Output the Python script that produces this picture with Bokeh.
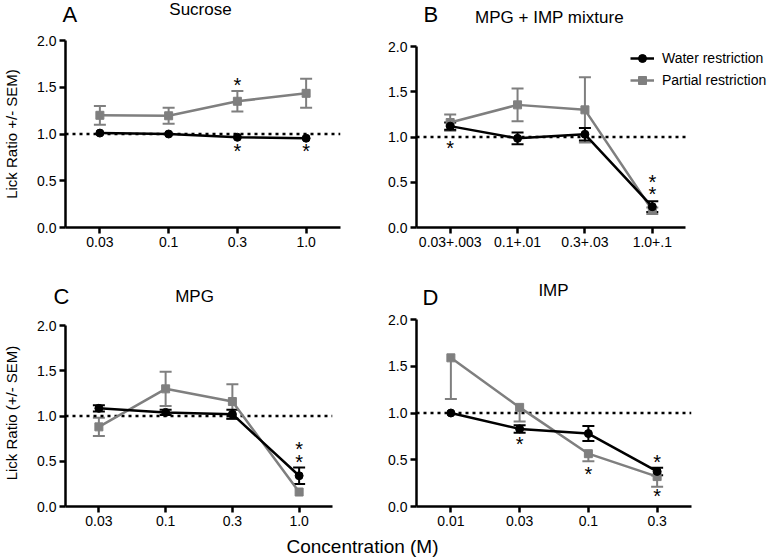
from bokeh.plotting import figure
from bokeh.models import (Range1d, FixedTicker, Whisker, TeeHead, ColumnDataSource,
                          Label, Legend, LegendItem, NumeralTickFormatter)
from bokeh.layouts import column, row
from bokeh.embed import file_html
from bokeh.resources import INLINE
from bokeh.core.properties import value

FONT = "Liberation Sans"
BLACK = "#000000"
GRAY = "#7f7f7f"

# ---------------- data ----------------
# Panel A: Sucrose
a_cats = ["0.03", "0.1", "0.3", "1.0"]
a_water = [1.01, 1.00, 0.965, 0.955]
a_water_err = [0, 0, 0, 0]
a_partial = [1.20, 1.195, 1.35, 1.435]
a_partial_hi = [0.10, 0.085, 0.11, 0.155]
a_partial_lo = [0.10, 0.085, 0.11, 0.155]
a_star_x = [2, 2, 3]
a_star_y = [1.56, 0.845, 0.845]

# Panel B: MPG + IMP mixture
b_cats = ["0.03+.003", "0.1+.01", "0.3+.03", "1.0+.1"]
b_water = [1.12, 0.985, 1.03, 0.23]
b_water_err = [0.04, 0.065, 0.07, 0.06]
b_partial = [1.16, 1.355, 1.30, 0.19]
b_partial_hi = [0.09, 0.18, 0.36, 0.03]
b_partial_lo = [0.09, 0.18, 0.36, 0.04]
b_star_x = [0, 3, 3]
b_star_y = [0.914, 0.535, 0.405]

# Panel C: MPG
c_cats = ["0.03", "0.1", "0.3", "1.0"]
c_water = [1.085, 1.04, 1.02, 0.34]
c_water_err = [0.035, 0.03, 0.05, 0.09]
c_partial = [0.88, 1.30, 1.16, 0.16]
c_partial_hi = [0.10, 0.19, 0.19, 0]
c_partial_lo = [0.10, 0.19, 0.19, 0]
c_star_x = [3, 3]
c_star_y = [0.666, 0.525]

# Panel D: IMP
d_cats = ["0.01", "0.03", "0.1", "0.3"]
d_water = [1.00, 0.83, 0.78, 0.375]
d_water_err = [0, 0.04, 0.08, 0.04]
d_partial = [1.59, 1.06, 0.565, 0.32]
d_partial_hi = [0, 0, 0, 0]
d_partial_lo = [0.44, 0.15, 0.08, 0.11]
d_star_x = [1, 2, 3, 3]
d_star_y = [0.70, 0.378, 0.51, 0.146]

y_ticks = [0, 0.5, 1.0, 1.5, 2.0]
reference_level = 1.0
series_names = ["Water restriction", "Partial restriction"]
panel_letters = ["A", "B", "C", "D"]
panel_titles = ["Sucrose", "MPG + IMP mixture", "MPG", "IMP"]
y_titles = ["Lick Ratio +/- SEM)", "Lick Ratio (+/- SEM)"]
x_title = "Concentration (M)"

X_LO, X_HI = -0.5, 3.5   # category axis extent
Y_LO, Y_HI = 0.0, 2.0    # value axis extent


def add_whiskers(p, xs, ys, hi, lo, color):
    ux = [x for x, h in zip(xs, hi) if h > 0]
    ub = [y for y, h in zip(ys, hi) if h > 0]
    ut = [y + h for y, h in zip(ys, hi) if h > 0]
    if ux:
        src = ColumnDataSource(dict(x=ux, lower=ub, upper=ut))
        p.add_layout(Whisker(source=src, base="x", lower="lower", upper="upper",
                             line_color=color, line_width=2, lower_head=None,
                             upper_head=TeeHead(size=12, line_color=color, line_width=2)))
    lx = [x for x, l in zip(xs, lo) if l > 0]
    lb = [y - l for y, l in zip(ys, lo) if l > 0]
    lt = [y for y, l in zip(ys, lo) if l > 0]
    if lx:
        src = ColumnDataSource(dict(x=lx, lower=lb, upper=lt))
        p.add_layout(Whisker(source=src, base="x", lower="lower", upper="upper",
                             line_color=color, line_width=2, upper_head=None,
                             lower_head=TeeHead(size=12, line_color=color, line_width=2)))


def make_panel(cats, water, water_err, partial, p_hi, p_lo, star_x, star_y,
               width, height, borders, x_axis_px, y_axis_px, ylabel=None, legend=None):
    left, right, top, bottom = borders
    frame_w = width - left - right
    frame_h = height - top - bottom
    x_end = X_LO + (X_HI - X_LO) * frame_w / x_axis_px
    y_end = Y_LO + (Y_HI - Y_LO) * frame_h / y_axis_px
    p = figure(width=width, height=height, output_backend="svg", toolbar_location=None,
               x_range=Range1d(X_LO, x_end), y_range=Range1d(Y_LO, y_end),
               min_border_left=left, min_border_right=right,
               min_border_top=top, min_border_bottom=bottom)
    p.outline_line_color = None
    p.grid.visible = False

    xs = list(range(len(cats)))

    xa = p.xaxis[0]
    xa.ticker = FixedTicker(ticks=xs)
    xa.major_label_overrides = {i: c for i, c in zip(xs, cats)}
    xa.bounds = (X_LO, X_HI)
    ya = p.yaxis[0]
    ya.ticker = FixedTicker(ticks=y_ticks)
    ya.formatter = NumeralTickFormatter(format="0.0")
    ya.bounds = (Y_LO, Y_HI)
    for ax in (xa, ya):
        ax.axis_line_width = 2.5
        ax.axis_line_color = BLACK
        ax.major_tick_line_width = 2.5
        ax.major_tick_line_color = BLACK
        ax.major_tick_out = 6
        ax.major_tick_in = 0
        ax.minor_tick_line_color = None
        ax.major_label_text_font = FONT
        ax.major_label_text_font_size = "14px"
        ax.major_label_text_color = BLACK
        ax.major_label_standoff = 3
    if ylabel:
        ya.axis_label = ylabel
        ya.axis_label_text_font = FONT
        ya.axis_label_text_font_size = "15px"
        ya.axis_label_text_font_style = "normal"
        ya.axis_label_text_color = BLACK
        ya.axis_label_standoff = 14

    # dotted reference line at ratio 1.0 across the category axis extent
    p.line([X_LO, X_HI], [reference_level, reference_level], line_color=BLACK,
           line_width=2.5, line_dash="3 4")

    add_whiskers(p, xs, partial, p_hi, p_lo, GRAY)
    add_whiskers(p, xs, water, water_err, water_err, BLACK)

    pl = p.line(xs, partial, line_color=GRAY, line_width=2.5)
    pm = p.scatter(xs, partial, marker="square", size=8, fill_color=GRAY, line_color=GRAY)
    wl = p.line(xs, water, line_color=BLACK, line_width=2.5)
    wm = p.scatter(xs, water, marker="circle", size=8, fill_color=BLACK, line_color=BLACK)

    p.text(x=star_x, y=star_y, text=["*"] * len(star_x), text_font=value(FONT),
           text_font_size="20px", text_align="center", text_baseline="middle",
           text_color=BLACK, y_offset=3)

    if legend:
        lg = Legend(items=[LegendItem(label=series_names[0], renderers=[wl, wm]),
                           LegendItem(label=series_names[1], renderers=[pl, pm])],
                    location=legend, label_text_font=FONT, label_text_font_size="14px",
                    label_text_color=BLACK, glyph_width=24, glyph_height=20,
                    label_height=20, label_standoff=8, spacing=2, padding=0, margin=0,
                    background_fill_alpha=0, border_line_alpha=0)
        p.add_layout(lg, "center")
    return p


def header(width, height, items):
    h = figure(width=width, height=height, output_backend="svg", toolbar_location=None,
               x_range=Range1d(0, width), y_range=Range1d(0, height), title=None,
               x_axis_location=None, y_axis_location=None, min_border=0)
    h.outline_line_color = None
    h.grid.visible = False
    for text, x, y, size, align in items:
        h.add_layout(Label(x=x, y=y, text=text, text_font=FONT, text_font_size=size,
                           text_align=align, text_baseline="alphabetic", text_color=BLACK))
    return h


W = 385

h1 = header(2 * W, 30, [
    (panel_letters[0], 62, 16, "22px", "left"),
    (panel_titles[0], 200, 21, "17px", "center"),
    (panel_letters[1], 423, 16, "22px", "left"),
    (panel_titles[1], 549, 13, "17px", "center"),
])

pA = make_panel(a_cats, a_water, a_water_err, a_partial, a_partial_hi, a_partial_lo,
                a_star_x, a_star_y, W, 249, (62, 45, 10, 52), 278, 187,
                ylabel=y_titles[0])
pB = make_panel(b_cats, b_water, b_water_err, b_partial, b_partial_hi, b_partial_lo,
                b_star_x, b_star_y, W, 249, (29, 0, 10, 52), 271, 181, legend=(214, 137))

h2 = header(2 * W, 31, [
    (panel_letters[2], 53, 14, "22px", "left"),
    (panel_titles[2], 194, 14, "17px", "center"),
    (panel_letters[3], 422, 13, "22px", "left"),
    (panel_titles[3], 553, 20, "17px", "center"),
])

pC = make_panel(c_cats, c_water, c_water_err, c_partial, c_partial_hi, c_partial_lo,
                c_star_x, c_star_y, W, 222, (61, 53, 9, 26), 271, 181,
                ylabel=y_titles[1])
pD = make_panel(d_cats, d_water, d_water_err, d_partial, d_partial_hi, d_partial_lo,
                d_star_x, d_star_y, W, 222, (27, 79, 9, 26), 279, 187)

pL = header(2 * W, 26, [(x_title, 362, 12, "19px", "center")])

layout = column(h1, row(pA, pB), h2, row(pC, pD), pL)

with open("out.html", "w") as f:
    f.write(file_html(layout, INLINE))
